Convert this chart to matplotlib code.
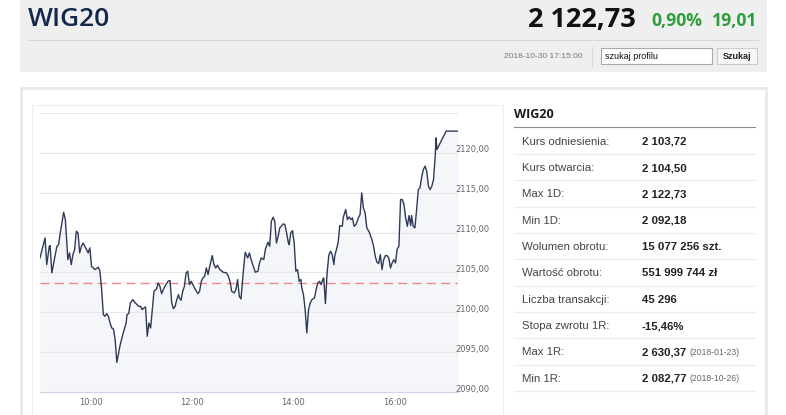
import matplotlib.pyplot as plt
from matplotlib.patches import Rectangle
from matplotlib.transforms import offset_copy

# ==================== dane ====================
INDEX_NAME = 'WIG20'
LAST_PRICE = '2 122,73'
CHANGE_PCT = '0,90%'
CHANGE_ABS = '19,01'
TIMESTAMP = '2018-10-30 17:15:00'
REF_PRICE = 2103.72

times = [
    "09:00", "09:06", "09:08", "09:11", "09:12", "09:14", "09:17", "09:20", "09:22", "09:24",
    "09:28", "09:30", "09:32", "09:33", "09:35", "09:37", "09:39", "09:41", "09:43", "09:45",
    "09:47", "09:49", "09:51", "09:55", "09:57", "09:59", "10:01", "10:05", "10:09", "10:11",
    "10:13", "10:15", "10:17", "10:19", "10:21", "10:23", "10:25", "10:27", "10:29", "10:31",
    "10:35", "10:38", "10:42", "10:43", "10:45", "10:47", "10:50", "10:52", "10:55", "10:57",
    "10:59", "11:01", "11:03", "11:05", "11:07", "11:09", "11:11", "11:13", "11:15", "11:18",
    "11:20", "11:22", "11:24", "11:26", "11:29", "11:32", "11:34", "11:36", "11:38", "11:40",
    "11:42", "11:44", "11:45", "11:47", "11:49", "11:51", "11:53", "11:55", "11:57", "11:59",
    "12:01", "12:04", "12:07", "12:09", "12:11", "12:13", "12:15", "12:17", "12:19", "12:21",
    "12:24", "12:26", "12:28", "12:30", "12:33", "12:37", "12:41", "12:43", "12:45", "12:47",
    "12:50", "12:52", "12:54", "12:56", "12:58", "13:01", "13:03", "13:06", "13:08", "13:10",
    "13:12", "13:15", "13:18", "13:20", "13:22", "13:25", "13:27", "13:30", "13:32", "13:34",
    "13:36", "13:38", "13:40", "13:42", "13:44", "13:48", "13:50", "13:52", "13:54", "13:55",
    "13:57", "13:59", "14:01", "14:03", "14:05", "14:07", "14:09", "14:10", "14:12", "14:14",
    "14:16", "14:18", "14:20", "14:22", "14:25", "14:27", "14:29", "14:31", "14:33", "14:35",
    "14:36", "14:38", "14:40", "14:42", "14:44", "14:46", "14:48", "14:49", "14:51", "14:53",
    "14:55", "14:58", "14:59", "15:02", "15:04", "15:06", "15:08", "15:10", "15:12", "15:14",
    "15:15", "15:17", "15:19", "15:21", "15:23", "15:25", "15:27", "15:30", "15:33", "15:35",
    "15:37", "15:39", "15:41", "15:43", "15:45", "15:47", "15:49", "15:51", "15:53", "15:55",
    "15:57", "15:59", "16:01", "16:03", "16:05", "16:07", "16:09", "16:11", "16:13", "16:15",
    "16:17", "16:19", "16:20", "16:22", "16:24", "16:26", "16:28", "16:30", "16:32", "16:34",
    "16:36", "16:38", "16:40", "16:42", "16:44", "16:46", "16:48", "16:49", "16:50", "16:53",
    "16:57", "17:01", "17:15",
]

prices = [
    2106.82, 2109.33, 2105.98, 2108.28, 2108.37, 2104.94, 2106.61, 2108.28, 2108.49, 2109.96,
    2112.55, 2111.63, 2108.28, 2106.61, 2107.45, 2105.98, 2107.24, 2107.87, 2110.17, 2109.96,
    2107.45, 2108.28, 2108.70, 2107.87, 2107.45, 2108.08, 2105.77, 2105.36, 2105.65, 2105.15,
    2102.85, 2099.71, 2099.50, 2099.83, 2099.50, 2098.66, 2098.03, 2097.91, 2096.57, 2093.72,
    2095.94, 2097.20, 2098.66, 2099.71, 2099.83, 2101.17, 2101.59, 2101.26, 2100.96, 2100.75,
    2100.75, 2100.33, 2100.54, 2100.67, 2096.99, 2098.66, 2098.03, 2100.33, 2102.64, 2102.93,
    2103.68, 2103.26, 2102.34, 2102.85, 2103.47, 2103.93, 2103.97, 2101.17, 2100.46, 2100.75,
    2101.59, 2102.22, 2101.80, 2101.51, 2102.64, 2103.26, 2104.94, 2105.15, 2103.47, 2103.89,
    2103.47, 2102.85, 2102.34, 2102.64, 2103.89, 2104.31, 2104.52, 2105.56, 2104.73, 2105.77,
    2107.11, 2105.98, 2105.56, 2105.90, 2105.36, 2105.02, 2104.94, 2104.52, 2103.89, 2102.64,
    2102.43, 2102.85, 2104.10, 2102.01, 2101.67, 2105.36, 2107.53, 2106.82, 2107.45, 2106.61,
    2105.98, 2105.02, 2105.15, 2106.19, 2106.82, 2106.61, 2107.95, 2108.79, 2108.28, 2111.42,
    2111.92, 2111.42, 2108.70, 2109.54, 2110.59, 2111.09, 2111.00, 2109.96, 2108.79, 2108.49,
    2109.96, 2110.25, 2108.70, 2105.15, 2105.36, 2103.89, 2104.10, 2103.05, 2102.22, 2100.33,
    2097.41, 2100.33, 2101.17, 2101.59, 2101.80, 2102.85, 2103.68, 2103.89, 2103.47, 2104.18,
    2104.31, 2101.09, 2104.94, 2107.15, 2107.66, 2107.24, 2105.98, 2107.03, 2107.87, 2108.70,
    2110.88, 2110.79, 2111.84, 2112.89, 2111.63, 2111.97, 2111.63, 2111.84, 2110.79, 2111.00,
    2111.21, 2111.84, 2112.26, 2114.98, 2113.10, 2112.47, 2110.59, 2110.04, 2109.12, 2108.28,
    2107.03, 2106.28, 2106.11, 2107.24, 2105.36, 2106.61, 2107.11, 2107.11, 2106.82, 2105.56,
    2106.19, 2106.61, 2106.19, 2107.95, 2108.28, 2114.14, 2114.14, 2113.51, 2111.84, 2110.79,
    2112.13, 2110.88, 2112.13, 2110.79, 2110.59, 2112.89, 2115.40, 2115.61, 2116.99, 2117.91,
    2118.33, 2117.70, 2115.82, 2115.40, 2115.82, 2116.65, 2119.58, 2121.88, 2120.42, 2121.05,
    2121.88, 2122.73, 2122.73,
]

x_ticks = ["10:00", "12:00", "14:00", "16:00"]
y_ticks = [2090, 2095, 2100, 2105, 2110, 2115, 2120, 2125]

table_labels = [
    'Kurs odniesienia:', 'Kurs otwarcia:', 'Max 1D:', 'Min 1D:', 'Wolumen obrotu:',
    'Wartość obrotu:', 'Liczba transakcji:', 'Stopa zwrotu 1R:', 'Max 1R:', 'Min 1R:',
]
table_values = [
    '2 103,72', '2 104,50', '2 122,73', '2 092,18', '15 077 256 szt.',
    '551 999 744 zł', '45 296', '-15,46%', '2 630,37', '2 082,77',
]
table_notes = ['', '', '', '', '', '', '', '', '(2018-01-23)', '(2018-10-26)']


def to_minutes(hhmm):
    h, m = hhmm.split(':')
    return int(h) * 60 + int(m)


W, H = 786, 415
fig = plt.figure(figsize=(W / 100, H / 100), dpi=100)

# tło strony w pikselach
bg = fig.add_axes([0, 0, 1, 1])
bg.set_xlim(0, W)
bg.set_ylim(H, 0)
bg.axis('off')

# ==================== nagłówek ====================
bg.add_patch(Rectangle((20, 0), 747, 72, facecolor='#efefef', edgecolor='none'))
bg.plot([28, 758], [40.5, 40.5], color='#d6d6d6', lw=0.8)
bg.text(28, 25.5, INDEX_NAME, fontsize=19, color='#14284b', family='Open Sans',
        fontweight='semibold', va='baseline')
bg.text(636, 26.5, LAST_PRICE, fontsize=19.5, color='#111111', family='Open Sans',
        fontweight='bold', va='baseline', ha='right')
bg.text(702, 26, CHANGE_PCT, fontsize=12.7, color='#2e9e3c', family='Open Sans',
        fontweight='bold', va='baseline', ha='right')
bg.text(757, 26, CHANGE_ABS, fontsize=12.7, color='#2e9e3c', family='Open Sans',
        fontweight='bold', va='baseline', ha='right')

bg.text(583, 57, TIMESTAMP, fontsize=6, color='#777777', family='Liberation Sans',
        va='center', ha='right')
bg.plot([591.5, 591.5], [47, 67], color='#d8d8d8', lw=0.8)
bg.add_patch(Rectangle((601, 48.5), 111, 15.5, facecolor='white', edgecolor='#a9a9a9', lw=0.8))
bg.text(605, 56.5, 'szukaj profilu', fontsize=6.5, color='#111111', family='Liberation Sans',
        va='center')
bg.add_patch(Rectangle((717, 48.5), 40, 15.5, facecolor='#f7f7f7', edgecolor='#cccccc', lw=0.8))
bg.text(737, 56.5, 'Szukaj', fontsize=6.5, color='#222222', family='Liberation Sans',
        fontweight='bold', va='center', ha='center')

# ==================== panel ====================
bg.add_patch(Rectangle((21, 88.5), 745, 340, facecolor='white', edgecolor='#e9e9e9', lw=2))
bg.add_patch(Rectangle((32, 105), 471, 330, facecolor='white', edgecolor='#eeeeee', lw=0.8))

# tabela
bg.text(514, 114, INDEX_NAME, fontsize=9, color='#1a1a1a', family='Open Sans',
        fontweight='bold', va='center')
bg.plot([514, 755], [127.3, 127.3], color='#8a8a8a', lw=0.8)
row_h = 26.33
for i, (lab, val, note) in enumerate(zip(table_labels, table_values, table_notes)):
    yc = 140.7 + i * row_h
    bg.text(521.5, yc, lab, fontsize=8.2, color='#444444', family='Liberation Sans',
            va='center_baseline')
    bg.text(641.5, yc, val, fontsize=8.2, color='#222222', family='Liberation Sans',
            fontweight='bold', va='center_baseline')
    if note:
        bg.text(689, yc, note, fontsize=6.2, color='#666666', family='Liberation Sans',
                va='center_baseline')
    bg.plot([514, 755], [yc + 13.3, yc + 13.3], color='#ebebeb', lw=0.8)

# ==================== wykres ====================
left, right, top, bottom = 40, 458, 113, 392
ax = fig.add_axes([left / W, (H - bottom) / H, (right - left) / W, (bottom - top) / H])
ax.patch.set_alpha(0)

xs = [to_minutes(t) for t in times]
ax.fill_between(xs, prices, y_ticks[0], color='#eef0f5', alpha=0.6, lw=0, zorder=1)
ax.plot(xs, prices, color='#2d3b58', lw=1.0, zorder=3)
ax.axhline(REF_PRICE, color='#f07474', lw=1.0, dashes=(6.5, 3.8), alpha=0.85, zorder=2)

ax.set_xlim(to_minutes("09:00"), to_minutes("17:15"))
ax.set_ylim(y_ticks[0], y_ticks[-1])
ax.set_yticks(y_ticks)
ax.set_yticklabels([])
ax.yaxis.grid(True, color='#e6e6e6', lw=0.8, zorder=0)
ax.tick_params(axis='y', length=0)
ax.set_xticks([to_minutes(t) for t in x_ticks])
ax.set_xticklabels(x_ticks, fontsize=6, color='#666666', family='DejaVu Sans')
ax.tick_params(axis='x', length=0, pad=4.5)
for side in ['left', 'right', 'top']:
    ax.spines[side].set_visible(False)
ax.spines['bottom'].set_color('#ccd6eb')
ax.spines['bottom'].set_linewidth(0.8)

lab_tr = offset_copy(ax.get_yaxis_transform(), fig=fig, x=-3, y=0.5, units='dots')
for v in y_ticks[:-1]:
    ax.text(1.0, v, f'{v:.2f}'.replace('.', ','), transform=lab_tr, fontsize=6,
            color='#666666', family='DejaVu Sans', va='baseline', ha='left', zorder=4)

fig.savefig('out.png', dpi=100)
